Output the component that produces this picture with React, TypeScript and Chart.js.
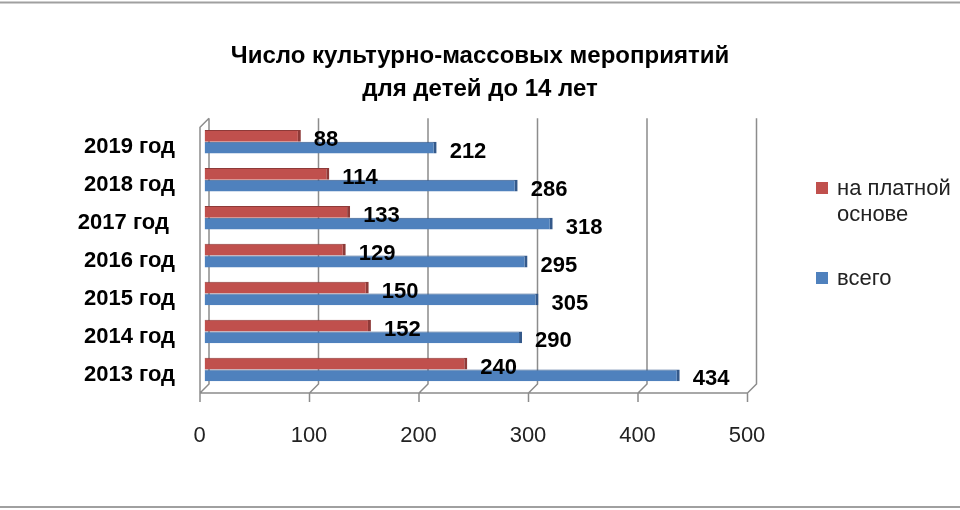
import { useEffect, useRef } from 'react';
import { Chart, registerables } from 'chart.js';
import type { Plugin } from 'chart.js';

Chart.register(...registerables);

const years = ['2019 год', '2018 год', '2017 год ', '2016 год', '2015 год', '2014 год', '2013 год'];
const paid = [88, 114, 133, 129, 150, 152, 240];
const total = [212, 286, 318, 295, 305, 290, 434];
const xTicks = [0, 100, 200, 300, 400, 500];
const titleLines = ['Число культурно-массовых мероприятий', 'для детей до 14 лет'];
const seriesNames = ['на платной основе', 'всего'];

const FONT = '"Liberation Sans", Arial, sans-serif';
const D = 4.5; // half depth of the 3d box
const RED = '#c0504d';
const BLUE = '#4f81bd';

// gray frame lines at top and bottom of the picture, plus the 3d walls
const framePlugin: Plugin<'bar'> = {
  id: 'frame3d',
  beforeDraw(chart) {
    const { ctx, width, height } = chart;
    ctx.save();
    ctx.strokeStyle = '#a0a0a0';
    ctx.lineWidth = 2;
    ctx.beginPath();
    ctx.moveTo(0, 2.5);
    ctx.lineTo(width, 2.5);
    ctx.moveTo(0, height - 3);
    ctx.lineTo(width, height - 3);
    ctx.stroke();
    ctx.restore();
  },
  beforeDatasetsDraw(chart) {
    const { ctx, chartArea } = chart;
    const { top, bottom } = chartArea;
    const x = chart.scales.x;
    const x0 = x.getPixelForValue(x.min);
    const x1 = x.getPixelForValue(x.max);
    ctx.save();
    ctx.strokeStyle = '#8c8c8c';
    ctx.lineWidth = 1.5;
    ctx.beginPath();
    x.ticks.forEach((t) => {
      const px = x.getPixelForValue(t.value);
      ctx.moveTo(px + D, top - D);
      ctx.lineTo(px + D, bottom - D);
      ctx.lineTo(px - D, bottom + D);
      ctx.lineTo(px - D, bottom + D + 9);
    });
    ctx.moveTo(x0 - D, bottom + D);
    ctx.lineTo(x1 - D, bottom + D);
    ctx.moveTo(x0 - D, bottom + D);
    ctx.lineTo(x0 - D, top + D);
    ctx.lineTo(x0 + D, top - D);
    ctx.stroke();
    ctx.restore();
  },
  afterDatasetsDraw(chart) {
    const { ctx } = chart;
    ctx.save();
    ctx.font = `bold 22px ${FONT}`;
    ctx.fillStyle = '#000';
    ctx.textAlign = 'left';
    ctx.textBaseline = 'middle';
    chart.data.datasets.forEach((ds, i) => {
      chart.getDatasetMeta(i).data.forEach((el, j) => {
        ctx.fillText(String(ds.data[j]), el.x + 13, el.y + 4);
      });
    });
    ctx.restore();
  },
};

// legend on the right, with the long label wrapped
const legendPlugin: Plugin<'bar'> = {
  id: 'sideLegend',
  afterDraw(chart) {
    const { ctx } = chart;
    const startY = [189, 279];
    ctx.save();
    ctx.font = `22px ${FONT}`;
    ctx.textAlign = 'left';
    ctx.textBaseline = 'middle';
    chart.data.datasets.forEach((ds, i) => {
      const words = String(ds.label).split(' ');
      const lines: string[] = [];
      let cur = '';
      words.forEach((w) => {
        const next = cur ? cur + ' ' + w : w;
        if (cur && ctx.measureText(next).width > 125) {
          lines.push(cur);
          cur = w;
        } else cur = next;
      });
      if (cur) lines.push(cur);
      const y = startY[i];
      ctx.fillStyle = ds.backgroundColor as string;
      ctx.fillRect(816, y - 7, 12, 12);
      ctx.fillStyle = '#222';
      lines.forEach((l, k) => ctx.fillText(l, 837, y + k * 26));
    });
    ctx.restore();
  },
};

const App = () => {
  const canvasRef = useRef<HTMLCanvasElement | null>(null);
  const chartRef = useRef<Chart | null>(null);

  useEffect(() => {
    if (!canvasRef.current) return;
    chartRef.current?.destroy();

    chartRef.current = new Chart(canvasRef.current, {
      type: 'bar',
      data: {
        labels: years,
        datasets: [
          {
            label: seriesNames[0],
            data: paid,
            backgroundColor: RED,
            borderColor: '#8e3a38',
            borderWidth: { top: 1, right: 3, bottom: 0, left: 0 },
            borderSkipped: false,
          },
          {
            label: seriesNames[1],
            data: total,
            backgroundColor: BLUE,
            borderColor: '#34598a',
            borderWidth: { top: 1, right: 3, bottom: 0, left: 0 },
            borderSkipped: false,
          },
        ],
      },
      options: {
        indexAxis: 'y',
        animation: false,
        responsive: true,
        maintainAspectRatio: false,
        layout: { padding: 0 },
        datasets: { bar: { categoryPercentage: 0.62, barPercentage: 1 } },
        plugins: {
          legend: { display: false },
          tooltip: { enabled: false },
          title: {
            display: true,
            text: titleLines,
            color: '#000',
            font: { family: FONT, size: 24, weight: 'bold', lineHeight: 1.38 },
            padding: { top: 40, bottom: 16.5 },
          },
        },
        scales: {
          x: {
            min: xTicks[0],
            max: xTicks[xTicks.length - 1],
            ticks: {
              stepSize: xTicks[1] - xTicks[0],
              labelOffset: -5,
              padding: 34,
              color: '#222',
              font: { family: FONT, size: 22 },
            },
            grid: { display: false, drawTicks: false },
            border: { display: false },
            afterFit: (s) => {
              s.height = 121.5;
            },
          },
          y: {
            ticks: {
              padding: 29.5,
              labelOffset: 5,
              color: '#000',
              font: { family: FONT, size: 22, weight: 'bold' },
            },
            grid: { display: false, drawTicks: false },
            border: { display: false },
            afterFit: (s) => {
              s.width = 204.5;
            },
          },
          // empty space on the right that holds the legend
          legendSpace: {
            type: 'linear',
            axis: 'y',
            position: 'right',
            ticks: { display: false },
            grid: { display: false, drawTicks: false },
            border: { display: false },
            afterFit: (s) => {
              s.width = 208;
            },
          },
        },
      },
      plugins: [framePlugin, legendPlugin],
    });

    return () => chartRef.current?.destroy();
  }, []);

  return (
    <div style={{ position: 'fixed', left: 0, top: 0, width: 960, height: 510, background: '#fff' }}>
      <canvas ref={canvasRef} />
    </div>
  );
};

export default App;
